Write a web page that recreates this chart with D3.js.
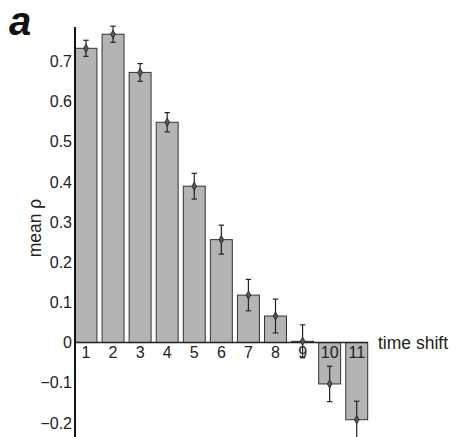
<!DOCTYPE html>
<html>
<head>
<meta charset="utf-8">
<script src="https://cdn.jsdelivr.net/npm/d3@7"></script>
<style>
  html, body { margin: 0; padding: 0; background: #fff; }
  svg { display: block; }
  text { font-family: "Liberation Sans", Arial, sans-serif; fill: #222; }
</style>
</head>
<body>
<script>
// Mean correlation per time shift, with standard-error half widths
const shifts = [1, 2, 3, 4, 5, 6, 7, 8, 9, 10, 11];
const meanRho = [0.732, 0.767, 0.672, 0.548, 0.389, 0.256, 0.118, 0.066, 0.003, -0.103, -0.192];
const errRho = [0.020, 0.020, 0.022, 0.024, 0.032, 0.036, 0.039, 0.042, 0.041, 0.044, 0.046];
const yTicks = [-0.2, -0.1, 0, 0.1, 0.2, 0.3, 0.4, 0.5, 0.6, 0.7];
const yDomain = [-0.235, 0.785];

const W = 459, H = 437;
const left = 75, plotTop = 27, plotBottom = 437;

const svg = d3.select("body").append("svg")
  .attr("width", W).attr("height", H);

const y = d3.scaleLinear().domain(yDomain).range([plotBottom, plotTop]);
const x = d3.scaleBand()
  .domain(shifts)
  .range([left, 367.7])
  .paddingInner(0.19)
  .paddingOuter(0);

const data = shifts.map((s, i) => ({ s, v: meanRho[i], e: errRho[i] }));

// bars
svg.append("g").selectAll("rect").data(data).join("rect")
  .attr("x", d => x(d.s))
  .attr("width", x.bandwidth())
  .attr("y", d => y(Math.max(0, d.v)))
  .attr("height", d => Math.max(0.5, Math.abs(y(d.v) - y(0))))
  .attr("fill", "#b4b4b4")
  .attr("stroke", "#333")
  .attr("stroke-width", 1);

// zero line
svg.append("line")
  .attr("x1", left).attr("x2", x(11) + x.bandwidth())
  .attr("y1", y(0)).attr("y2", y(0))
  .attr("stroke", "#222").attr("stroke-width", 1.5);

// category labels
svg.append("g").selectAll("text").data(data).join("text")
  .attr("x", d => x(d.s) + x.bandwidth() / 2)
  .attr("y", y(0) + 15)
  .attr("text-anchor", "middle")
  .attr("font-size", 16)
  .text(d => d.s);

// error bars
const eb = svg.append("g").attr("stroke", "#222").attr("stroke-width", 1.2);
data.forEach(d => {
  const cx = x(d.s) + x.bandwidth() / 2;
  eb.append("line").attr("x1", cx).attr("x2", cx)
    .attr("y1", y(d.v + d.e)).attr("y2", y(d.v - d.e));
  [d.v + d.e, d.v - d.e].forEach(v => {
    eb.append("line").attr("x1", cx - 2.7).attr("x2", cx + 2.7)
      .attr("y1", y(v)).attr("y2", y(v));
  });
  eb.append("path")
    .attr("d", d3.symbol().type(d3.symbolDiamond).size(20)())
    .attr("transform", `translate(${cx},${y(d.v)})`)
    .attr("fill", "#555").attr("stroke", "#222").attr("stroke-width", 0.8);
});

// y axis: line plus labels, no tick marks
svg.append("line")
  .attr("x1", left).attr("x2", left)
  .attr("y1", plotTop).attr("y2", plotBottom)
  .attr("stroke", "#111").attr("stroke-width", 2);

svg.append("g").selectAll("text").data(yTicks).join("text")
  .attr("x", left - 3)
  .attr("y", d => y(d))
  .attr("dy", "0.36em")
  .attr("text-anchor", "end")
  .attr("font-size", 16)
  .text(d => d === 0 ? "0" : d3.format(".1f")(d).replace("-", "\u2212"));

// axis titles
svg.append("text")
  .attr("transform", `translate(41,228) rotate(-90)`)
  .attr("text-anchor", "middle")
  .attr("font-size", 17.5)
  .text("mean \u03C1");

svg.append("text")
  .attr("x", 378).attr("y", y(0) + 6)
  .attr("font-size", 17.5)
  .text("time shift");

// panel letter
svg.append("text")
  .attr("x", 9).attr("y", 35)
  .attr("font-size", 40)
  .attr("font-weight", "bold")
  .attr("font-style", "italic")
  .style("fill", "#111")
  .text("a");
</script>
</body>
</html>
